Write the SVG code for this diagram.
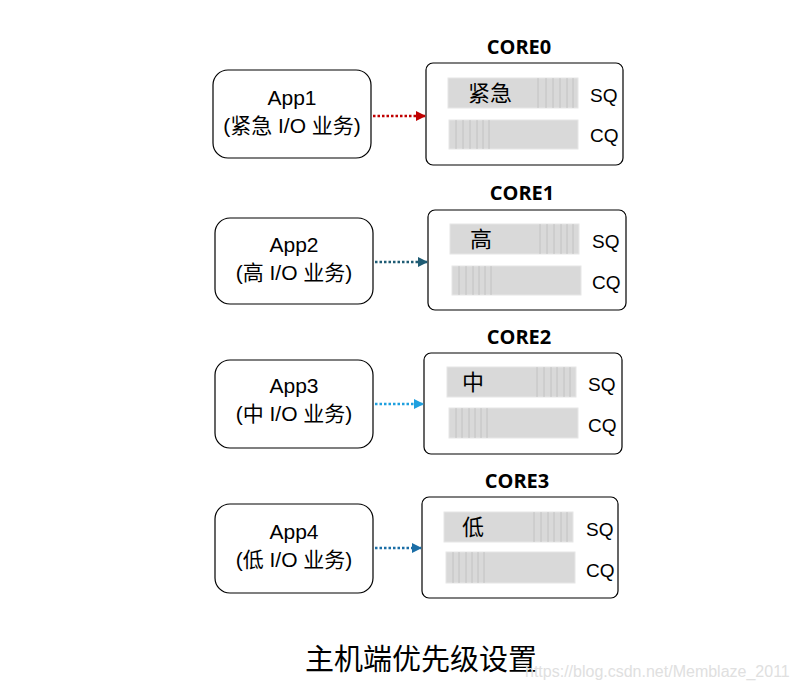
<svg xmlns="http://www.w3.org/2000/svg" width="797" height="695" viewBox="0 0 797 695">
<defs>
<style>
.app{fill:#fff;stroke:#000;stroke-width:1.2}
.core{fill:#fff;stroke:#000;stroke-width:1.2}
.bar{fill:#d9d9d9;stroke:#e6e6e6;stroke-width:1}
.st{stroke:#bcbcbc;stroke-width:0.8}
.t{font-family:"Liberation Sans","Noto Sans CJK SC",sans-serif;font-size:21px;fill:#000;text-anchor:middle}
.q{font-family:"Liberation Sans",sans-serif;font-size:19px;fill:#000}
.ct{font-family:"Open Sans","Liberation Sans",sans-serif;font-weight:bold;font-size:20px;fill:#000;text-anchor:middle}
.bt{font-family:"Noto Sans CJK SC",sans-serif;font-size:22px;fill:#000}
.ln{fill:none;stroke-width:2.5;stroke-dasharray:2.5 2}
</style>
<marker id="m0" markerWidth="10" markerHeight="10" refX="9" refY="5" orient="auto" markerUnits="userSpaceOnUse"><path d="M0,0 L10,5 L0,10Z" fill="#c00000"/></marker>
<marker id="m1" markerWidth="10" markerHeight="10" refX="9" refY="5" orient="auto" markerUnits="userSpaceOnUse"><path d="M0,0 L10,5 L0,10Z" fill="#1f5c74"/></marker>
<marker id="m2" markerWidth="10" markerHeight="10" refX="9" refY="5" orient="auto" markerUnits="userSpaceOnUse"><path d="M0,0 L10,5 L0,10Z" fill="#1fa0df"/></marker>
<marker id="m3" markerWidth="10" markerHeight="10" refX="9" refY="5" orient="auto" markerUnits="userSpaceOnUse"><path d="M0,0 L10,5 L0,10Z" fill="#1b6ea6"/></marker>
</defs>
<rect width="797" height="695" fill="#fff"/>

<g id="app1"><rect class="app" x="213" y="70" width="158" height="88" rx="15"/><text class="t" x="292" y="105">App1</text><text class="t" x="292" y="133">(紧急 I/O 业务)</text></g>
<g id="app2"><rect class="app" x="215" y="218" width="158" height="86" rx="15"/><text class="t" x="294" y="252">App2</text><text class="t" x="294" y="280">(高 I/O 业务)</text></g>
<g id="app3"><rect class="app" x="215" y="360" width="158" height="88" rx="15"/><text class="t" x="294" y="393">App3</text><text class="t" x="294" y="421">(中 I/O 业务)</text></g>
<g id="app4"><rect class="app" x="215" y="504" width="158" height="89" rx="15"/><text class="t" x="294" y="539">App4</text><text class="t" x="294" y="567">(低 I/O 业务)</text></g>

<g id="core0">
<text class="ct" x="519" y="54">CORE0</text>
<rect class="core" x="426" y="63" width="197" height="102" rx="7"/>
<rect class="bar" x="448" y="78" width="130" height="30"/>
<path class="st" d="M538,78V108M546,78V108M553,78V108M560,78V108M567,78V108M573,78V108"/>
<text class="bt" x="468" y="101">紧急</text>
<rect class="bar" x="449" y="120" width="129" height="29"/>
<path class="st" d="M456,120V149M463,120V149M470,120V149M477,120V149M483,120V149M489,120V149"/>
<text class="q" x="590" y="102">SQ</text><text class="q" x="590" y="142">CQ</text>
</g>
<g id="core1">
<text class="ct" x="522" y="200">CORE1</text>
<rect class="core" x="428" y="210" width="198" height="100" rx="7"/>
<rect class="bar" x="450" y="224" width="129" height="30"/>
<path class="st" d="M540,224V254M547,224V254M554,224V254M561,224V254M567,224V254M573,224V254"/>
<text class="bt" x="470" y="247">高</text>
<rect class="bar" x="452" y="266" width="129" height="29"/>
<path class="st" d="M459,266V295M466,266V295M473,266V295M479,266V295M485,266V295M491,266V295"/>
<text class="q" x="592" y="248">SQ</text><text class="q" x="592" y="289">CQ</text>
</g>
<g id="core2">
<text class="ct" x="519" y="344">CORE2</text>
<rect class="core" x="424" y="353" width="198" height="101" rx="7"/>
<rect class="bar" x="447" y="367" width="129" height="30"/>
<path class="st" d="M537,367V397M544,367V397M551,367V397M557,367V397M564,367V397M570,367V397"/>
<text class="bt" x="462" y="390">中</text>
<rect class="bar" x="449" y="408" width="129" height="30"/>
<path class="st" d="M456,408V438M462,408V438M469,408V438M475,408V438M481,408V438M487,408V438"/>
<text class="q" x="588" y="391">SQ</text><text class="q" x="588" y="432">CQ</text>
</g>
<g id="core3">
<text class="ct" x="517" y="488">CORE3</text>
<rect class="core" x="422" y="497" width="196" height="101" rx="7"/>
<rect class="bar" x="444" y="512" width="129" height="30"/>
<path class="st" d="M534,512V542M541,512V542M548,512V542M554,512V542M561,512V542M567,512V542"/>
<text class="bt" x="462" y="535">低</text>
<rect class="bar" x="446" y="552" width="129" height="31"/>
<path class="st" d="M453,552V583M459,552V583M466,552V583M472,552V583M478,552V583M484,552V583"/>
<text class="q" x="586" y="536">SQ</text><text class="q" x="586" y="577">CQ</text>
</g>

<g id="connectors">
<line class="ln" x1="373" y1="116" x2="425" y2="116" stroke="#c00000" marker-end="url(#m0)"/>
<line class="ln" x1="375" y1="262" x2="427" y2="262" stroke="#1f5c74" marker-end="url(#m1)"/>
<line class="ln" x1="375" y1="404" x2="423" y2="404" stroke="#1fa0df" marker-end="url(#m2)"/>
<line class="ln" x1="375" y1="548" x2="421" y2="548" stroke="#1b6ea6" marker-end="url(#m3)"/>
</g>

<text x="305" y="670" font-family="Noto Sans CJK SC,sans-serif" font-size="29" fill="#000">主机端优先级设置</text>
<text x="525" y="677" font-family="Liberation Sans,sans-serif" font-size="16" fill="#e0e0e0">https://blog.csdn.net/Memblaze_2011</text>
</svg>
